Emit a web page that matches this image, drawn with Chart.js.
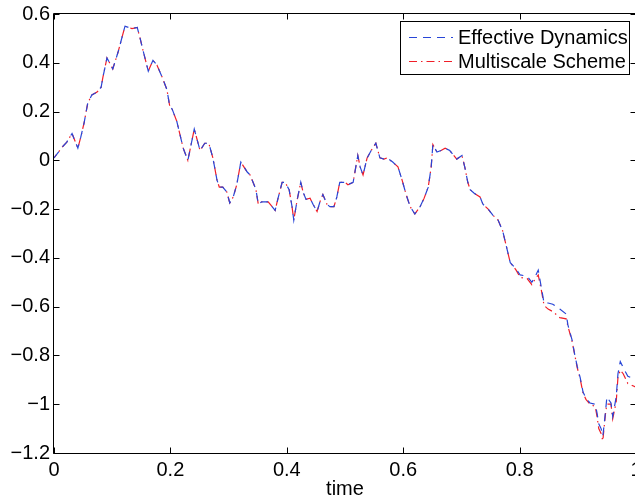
<!DOCTYPE html>
<html>
<head>
<meta charset="utf-8">
<script src="https://cdn.jsdelivr.net/npm/chart.js@4.4.1/dist/chart.umd.min.js"></script>
<style>
  html, body { margin: 0; padding: 0; background: #fff; overflow: hidden; width: 635px; height: 501px; }
  #clip { width: 635px; height: 501px; overflow: hidden; position: relative; }
  #wrap { width: 640px; height: 501px; position: absolute; left: 0; top: 0; }
</style>
</head>
<body>
<div id="clip"><div id="wrap"><canvas id="c" width="640" height="501"></canvas></div></div>
<script>
// ---- data ----
const time = [
  0, 0.014, 0.022, 0.031, 0.041, 0.046, 0.052, 0.058, 0.065, 0.074,
  0.081, 0.084, 0.091, 0.101, 0.110, 0.122, 0.134, 0.143, 0.148, 0.153,
  0.162, 0.170, 0.177, 0.186, 0.194, 0.199, 0.203, 0.211, 0.215, 0.222,
  0.230, 0.241, 0.251, 0.259, 0.266, 0.273, 0.280, 0.284, 0.290, 0.297,
  0.302, 0.308, 0.314, 0.321, 0.332, 0.337, 0.342, 0.347, 0.351, 0.357,
  0.368, 0.380, 0.385, 0.392, 0.397, 0.404, 0.409, 0.412, 0.418, 0.424,
  0.428, 0.433, 0.440, 0.445, 0.452, 0.457, 0.462, 0.469, 0.474, 0.481,
  0.486, 0.491, 0.500, 0.505, 0.514, 0.522, 0.526, 0.531, 0.538, 0.545,
  0.553, 0.560, 0.567, 0.572, 0.582, 0.591, 0.598, 0.605, 0.612, 0.620,
  0.629, 0.636, 0.643, 0.648, 0.651, 0.658, 0.665, 0.672, 0.680, 0.692,
  0.701, 0.706, 0.711, 0.715, 0.722, 0.732, 0.737, 0.746, 0.754, 0.763,
  0.771, 0.778, 0.784, 0.794, 0.801, 0.813, 0.821, 0.826, 0.832, 0.838,
  0.842, 0.849, 0.857, 0.869, 0.880, 0.883, 0.890, 0.895, 0.899, 0.904,
  0.909, 0.914, 0.921, 0.930, 0.933, 0.936, 0.940, 0.943, 0.945, 0.948,
  0.950, 0.957, 0.960, 0.966, 0.969, 0.973, 0.978, 0.986, 1.0
];
const effectiveDynamics = [
  0.01, 0.054, 0.075, 0.11, 0.05, 0.095, 0.157, 0.235, 0.268, 0.28,
  0.30, 0.34, 0.42, 0.375, 0.443, 0.55, 0.54, 0.545, 0.50, 0.45,
  0.366, 0.41, 0.39, 0.34, 0.29, 0.22, 0.21, 0.16, 0.12, 0.05,
  0.0, 0.128, 0.04, 0.07, 0.07, 0.01, -0.08, -0.11, -0.11, -0.13,
  -0.175, -0.15, -0.10, -0.007, -0.048, -0.06, -0.09, -0.12, -0.18, -0.17,
  -0.17, -0.205, -0.155, -0.09, -0.09, -0.12, -0.19, -0.245, -0.16, -0.09,
  -0.13, -0.16, -0.155, -0.18, -0.21, -0.17, -0.14, -0.18, -0.19, -0.19,
  -0.15, -0.09, -0.09, -0.10, -0.09, 0.02, -0.027, -0.06, 0.01, 0.04,
  0.07, 0.01, 0.005, 0.01, -0.007, -0.027, -0.08, -0.14, -0.19, -0.22,
  -0.19, -0.155, -0.11, -0.03, 0.065, 0.034, 0.04, 0.05, 0.04, 0.005,
  0.02, -0.03, -0.09, -0.12, -0.135, -0.15, -0.18, -0.20, -0.225, -0.245,
  -0.29, -0.36, -0.42, -0.445, -0.47, -0.475, -0.50, -0.48, -0.45, -0.53,
  -0.585, -0.585, -0.59, -0.61, -0.63, -0.675, -0.735, -0.80, -0.845, -0.89,
  -0.95, -0.975, -0.995, -1.0, -1.035, -1.08, -1.10, -1.13, -1.09, -1.02,
  -0.97, -0.995, -1.05, -0.97, -0.875, -0.825, -0.85, -0.885, -0.90
];
const multiscaleScheme = [
  0.01, 0.054, 0.075, 0.11, 0.05, 0.095, 0.157, 0.235, 0.268, 0.28,
  0.30, 0.34, 0.42, 0.375, 0.443, 0.55, 0.54, 0.545, 0.50, 0.45,
  0.366, 0.41, 0.39, 0.34, 0.29, 0.22, 0.21, 0.16, 0.12, 0.05,
  0.0, 0.128, 0.04, 0.07, 0.07, 0.01, -0.08, -0.11, -0.11, -0.13,
  -0.175, -0.15, -0.10, -0.007, -0.048, -0.06, -0.09, -0.12, -0.18, -0.17,
  -0.17, -0.205, -0.155, -0.09, -0.09, -0.12, -0.19, -0.245, -0.16, -0.09,
  -0.13, -0.16, -0.155, -0.18, -0.21, -0.17, -0.14, -0.18, -0.19, -0.19,
  -0.15, -0.09, -0.09, -0.10, -0.09, 0.02, -0.027, -0.06, 0.01, 0.04,
  0.07, 0.01, 0.005, 0.01, -0.007, -0.027, -0.08, -0.14, -0.19, -0.22,
  -0.19, -0.155, -0.11, -0.03, 0.065, 0.034, 0.04, 0.05, 0.04, 0.005,
  0.02, -0.03, -0.09, -0.12, -0.135, -0.15, -0.18, -0.20, -0.225, -0.245,
  -0.29, -0.36, -0.42, -0.45, -0.48, -0.485, -0.51, -0.49, -0.47, -0.54,
  -0.595, -0.61, -0.62, -0.645, -0.65, -0.68, -0.74, -0.80, -0.85, -0.895,
  -0.955, -0.98, -1.0, -1.01, -1.05, -1.10, -1.12, -1.15, -1.10, -1.03,
  -1.0, -1.0, -1.06, -0.99, -0.89, -0.86, -0.875, -0.915, -0.93
];
const xTicks = [0, 0.2, 0.4, 0.6, 0.8, 1];
const yTicks = [-1.2, -1, -0.8, -0.6, -0.4, -0.2, 0, 0.2, 0.4, 0.6];
const seriesNames = ['Effective Dynamics', 'Multiscale Scheme'];
const xTitle = 'time';

const FONT = '"Liberation Sans", Arial, Helvetica, sans-serif';
const BLUE = 'rgb(40,70,215)';
const RED = 'rgb(240,30,40)';

function fmt(v) {
  const r = Math.round(v * 10) / 10;
  if (r === 0) return '0';
  return (r < 0 ? '\u2212' : '') + String(Math.abs(r));
}

const framePlugin = {
  id: 'frame',
  afterDraw(chart) {
    const ctx = chart.ctx;
    const a = chart.chartArea;
    const xs = chart.scales.x, ys = chart.scales.y;
    ctx.save();
    ctx.strokeStyle = '#000';
    ctx.lineWidth = 1;
    ctx.setLineDash([]);
    const L = Math.round(a.left) - 0.5, R = Math.round(a.right) + 0.5;
    const T = Math.round(a.top) - 0.5, B = Math.round(a.bottom) + 0.5;
    ctx.beginPath();
    ctx.rect(L, T, R - L, B - T);
    ctx.stroke();
    const tl = 6;
    ctx.beginPath();
    xs.ticks.forEach(t => {
      const px = Math.round(xs.getPixelForValue(t.value)) + 0.5;
      ctx.moveTo(px, B); ctx.lineTo(px, B - tl);
      ctx.moveTo(px, T); ctx.lineTo(px, T + tl);
    });
    ys.ticks.forEach(t => {
      const py = Math.round(ys.getPixelForValue(t.value)) + 0.5;
      ctx.moveTo(L, py); ctx.lineTo(L + tl, py);
      ctx.moveTo(R, py); ctx.lineTo(R - tl, py);
    });
    ctx.stroke();

    // legend box
    const bx = 400.5, by = 21.5, bw = 229, bh = 53;
    ctx.fillStyle = '#fff';
    ctx.fillRect(bx, by, bw, bh);
    ctx.strokeRect(bx, by, bw, bh);
    const rows = [37, 61];
    chart.data.datasets.forEach((ds, i) => {
      ctx.strokeStyle = ds.borderColor;
      ctx.lineWidth = 1;
      ctx.setLineDash(ds.borderDash);
      ctx.beginPath();
      ctx.moveTo(409, rows[i] + 0.5);
      ctx.lineTo(453, rows[i] + 0.5);
      ctx.stroke();
      ctx.setLineDash([]);
      ctx.fillStyle = '#000';
      ctx.font = '20px ' + FONT;
      ctx.textBaseline = 'middle';
      ctx.textAlign = 'left';
      ctx.fillText(ds.label, 458, rows[i] + 1);
    });
    ctx.restore();
  }
};

const pts = arr => time.map((t, i) => ({ x: t, y: arr[i] }));

new Chart(document.getElementById('c'), {
  type: 'line',
  data: {
    datasets: [
      { label: seriesNames[0], data: pts(effectiveDynamics), borderColor: BLUE, borderWidth: 1.2,
        borderDash: [8, 6], pointRadius: 0, tension: 0, fill: false },
      { label: seriesNames[1], data: pts(multiscaleScheme), borderColor: RED, borderWidth: 1.2,
        borderDash: [8, 4, 1.5, 4], borderDashOffset: 4, pointRadius: 0, tension: 0, fill: false }
    ]
  },
  options: {
    responsive: false,
    animation: false,
    layout: { padding: { top: 14, right: 4, left: 0, bottom: 0 } },
    plugins: { legend: { display: false }, tooltip: { enabled: false } },
    scales: {
      x: {
        type: 'linear', min: 0, max: 1,
        afterBuildTicks: s => { s.ticks = xTicks.map(v => ({ value: v })); },
        afterFit: s => { s.height = 48; s.paddingLeft = 0; s.paddingRight = 0; },
        grid: { display: false, drawTicks: false },
        border: { display: false },
        ticks: { padding: 5, color: '#000', font: { family: FONT, size: 20 }, maxRotation: 0,
                 callback: v => fmt(v) },
        title: { display: true, text: xTitle, color: '#000', font: { family: FONT, size: 20 },
                 padding: { top: 0, bottom: 0 } }
      },
      y: {
        type: 'linear', min: -1.2, max: 0.6,
        afterBuildTicks: s => { s.ticks = yTicks.map(v => ({ value: v })); },
        afterFit: s => { s.width = 54; s.paddingTop = 0; s.paddingBottom = 0; },
        grid: { display: false, drawTicks: false },
        border: { display: false },
        ticks: { padding: 4, color: '#000', font: { family: FONT, size: 20 },
                 callback: v => fmt(v) }
      }
    }
  },
  plugins: [framePlugin]
});
</script>
</body>
</html>
